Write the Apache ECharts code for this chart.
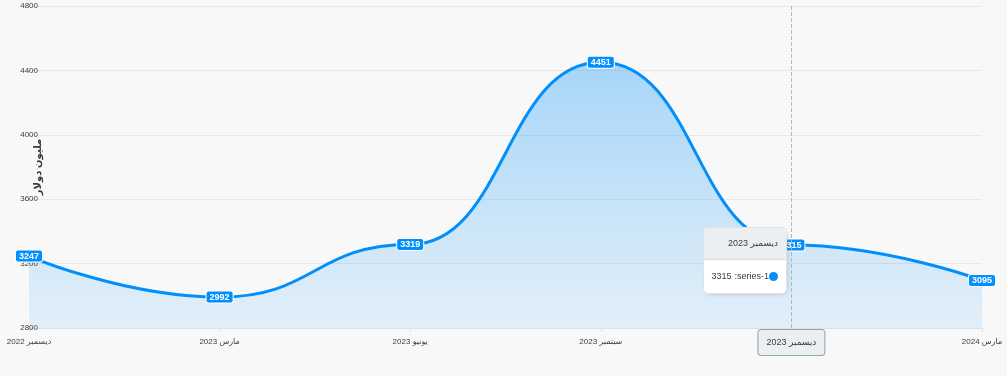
<!DOCTYPE html>
<html>
<head>
<meta charset="utf-8">
<script src="https://cdn.jsdelivr.net/npm/echarts@6/dist/echarts.min.js"></script>
<style>
  html, body { margin: 0; padding: 0; background: #f8f8f8; }
  #chart { width: 1007px; height: 376px; }
</style>
</head>
<body>
<div id="chart"></div>
<script>
// categories (quarters) and values
var months = ['ديسمبر 2022', 'مارس 2023', 'يونيو 2023', 'سبتمبر 2023', 'ديسمبر 2023', 'مارس 2024'];
var values = [3247, 2992, 3319, 4451, 3315, 3095];
var seriesName = 'series-1';
var yName = 'مليون دولار';
var yMin = 2800, yMax = 4800, yStep = 400;

var fontList = 'Liberation Sans, DejaVu Sans, sans-serif';
var myChart = echarts.init(document.getElementById('chart'), null, { renderer: 'canvas' });

var option = {
    backgroundColor: '#f8f8f8',
    animation: false,
    textStyle: { fontFamily: fontList },
    grid: { left: 29, right: 25, top: 6, bottom: 48, containLabel: false, outerBoundsMode: 'none' },
    tooltip: {
        trigger: 'axis',
        alwaysShowContent: true,
        transitionDuration: 0,
        position: [703, 227],
        padding: 0,
        backgroundColor: '#fff',
        borderColor: '#e3e3e3',
        borderWidth: 1,
        extraCssText: 'box-shadow:2px 2px 6px -4px #999;border-radius:5px;overflow:hidden;',
        axisPointer: {
            type: 'line',
            lineStyle: { color: '#b6b6b6', type: 'dashed', width: 1 },
            label: {
                show: true,
                backgroundColor: '#eceff1',
                borderColor: '#90a4ae',
                borderWidth: 1,
                color: '#373d3f',
                fontSize: 9,
                fontFamily: fontList,
                padding: [8, 8],
                margin: 2,
                shadowBlur: 0
            }
        },
        formatter: function (params) {
            var p = params[0];
            // separate spans so the RTL layout puts the value on the left, like the original
            return '<div dir="rtl" style="direction:rtl;font-family:' + fontList + ';font-size:9px;color:#373d3f;width:82px;">' +
                '<div style="background:#eceff1;border-bottom:1px solid #ddd;padding:5px 8px;text-align:right;">' + p.name + '</div>' +
                '<div style="padding:6px 8px;text-align:right;">' +
                '<span style="display:inline-block;width:9px;height:9px;border-radius:50%;background:#008ffb;vertical-align:middle;"></span>' +
                '<span dir="rtl" style="display:inline-block;vertical-align:middle;">' + seriesName + ': </span>' +
                '<span style="display:inline-block;vertical-align:middle;margin-right:3px;">' + p.value + '</span></div></div>';
        }
    },
    xAxis: [{
        type: 'category',
        boundaryGap: false,
        data: months,
        axisLine: { lineStyle: { color: '#e0e0e0' } },
        axisTick: { show: true, length: 4, lineStyle: { color: '#e0e0e0' } },
        axisLabel: { color: '#373d3f', fontSize: 8, margin: 10 },
        splitLine: { show: false }
    }],
    yAxis: [{
        type: 'value',
        min: yMin,
        max: yMax,
        interval: yStep,
        name: yName,
        nameLocation: 'middle',
        nameGap: -14,
        nameMoveOverlap: false,
        nameTextStyle: { color: '#373d3f', fontSize: 10, fontWeight: 'bold' },
        axisLine: { show: false },
        axisTick: { show: false },
        axisLabel: { color: '#373d3f', fontSize: 8, margin: -9, formatter: function (v) { return String(v); } },
        splitLine: { lineStyle: { color: '#e8e8e8' } }
    }],
    series: [{
        name: seriesName,
        type: 'line',
        data: values,
        smooth: 0.5,
        smoothMonotone: 'x',
        showSymbol: true,
        symbol: 'circle',
        symbolSize: 0,
        lineStyle: { color: '#008ffb', width: 3 },
        itemStyle: { color: '#008ffb' },
        emphasis: { disabled: true },
        areaStyle: {
            color: new echarts.graphic.LinearGradient(0, 0, 0, 1, [
                { offset: 0, color: 'rgba(0,143,251,0.47)' },
                { offset: 1, color: 'rgba(0,143,251,0.12)' }
            ])
        },
        label: {
            show: true,
            position: 'inside',
            color: '#fff',
            fontSize: 9,
            fontWeight: 'bold',
            backgroundColor: '#008ffb',
            borderColor: '#fff',
            borderWidth: 1,
            borderRadius: 2,
            padding: [1, 3]
        }
    }]
};
myChart.setOption(option);
myChart.dispatchAction({ type: 'showTip', seriesIndex: 0, dataIndex: 4 });
</script>
</body>
</html>
